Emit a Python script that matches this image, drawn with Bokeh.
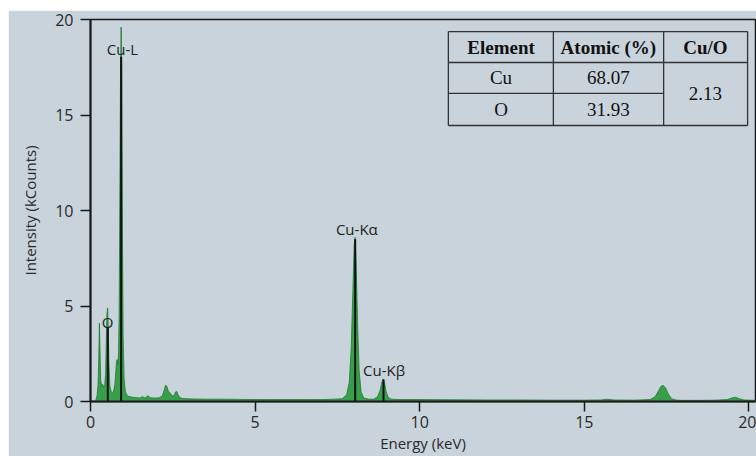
from bokeh.plotting import figure
from bokeh.models import FixedTicker, Range1d
from bokeh.core.properties import value
from bokeh.embed import file_html
from bokeh.resources import INLINE

# EDS spectrum of the copper oxide sample (energy in keV, intensity in kCounts)
energy_kev = [
    0.00, 0.15, 0.20, 0.23, 0.25, 0.27, 0.29, 0.31, 0.34, 0.37,
    0.40, 0.43, 0.46, 0.48, 0.50, 0.52, 0.54, 0.56, 0.59, 0.63,
    0.67, 0.71, 0.74, 0.77, 0.79, 0.81, 0.83, 0.85, 0.87, 0.89,
    0.91, 0.93, 0.95, 0.97, 0.99, 1.02, 1.06, 1.12, 1.20, 1.30,
    1.40, 1.50, 1.58, 1.66, 1.74, 1.82, 1.90, 2.00, 2.10, 2.18,
    2.24, 2.28, 2.32, 2.36, 2.42, 2.48, 2.54, 2.58, 2.62, 2.66,
    2.72, 2.80, 2.95, 3.20, 3.60, 4.00, 4.50, 5.00, 5.50, 6.00,
    6.50, 7.00, 7.40, 7.65, 7.78, 7.86, 7.92, 7.97, 8.01, 8.04,
    8.07, 8.11, 8.16, 8.22, 8.30, 8.45, 8.60, 8.72, 8.80, 8.85,
    8.89, 8.93, 8.98, 9.05, 9.15, 9.40, 10.0, 11.0, 12.0, 13.0,
    14.0, 15.0, 15.5, 15.7, 15.9, 16.5, 17.0, 17.15, 17.25, 17.33,
    17.40, 17.47, 17.55, 17.65, 17.80, 18.0, 18.5, 19.0, 19.35, 19.5,
    19.6, 19.7, 19.85, 20.2,
]
intensity_kcounts = [
    0.00, 0.00, 0.30, 0.90, 2.20, 4.10, 2.60, 1.10, 0.80, 0.90,
    0.75, 0.80, 1.50, 3.20, 4.60, 4.90, 3.90, 2.00, 0.80, 0.50,
    0.45, 0.60, 0.90, 1.60, 2.10, 2.20, 1.90, 2.40, 4.50, 10.5,
    16.5, 19.6, 17.5, 9.00, 3.50, 1.20, 0.50, 0.30, 0.25, 0.22,
    0.20, 0.18, 0.25, 0.18, 0.30, 0.20, 0.18, 0.18, 0.20, 0.30,
    0.60, 0.85, 0.80, 0.55, 0.45, 0.30, 0.30, 0.50, 0.52, 0.35,
    0.20, 0.16, 0.14, 0.13, 0.12, 0.12, 0.11, 0.10, 0.10, 0.10,
    0.10, 0.10, 0.12, 0.15, 0.35, 1.00, 2.80, 5.80, 8.20, 8.60,
    7.20, 4.20, 1.60, 0.50, 0.18, 0.12, 0.12, 0.25, 0.60, 1.00,
    1.18, 1.00, 0.50, 0.20, 0.12, 0.10, 0.10, 0.09, 0.08, 0.08,
    0.07, 0.07, 0.08, 0.12, 0.08, 0.07, 0.10, 0.25, 0.55, 0.80,
    0.84, 0.70, 0.40, 0.15, 0.07, 0.06, 0.06, 0.07, 0.10, 0.20,
    0.22, 0.15, 0.08, 0.06,
]

# Identified lines: position and height of the marker
line_names = ["O", "Cu-L", "Cu-K\u03b1", "Cu-K\u03b2"]
line_energy = [0.525, 0.93, 8.04, 8.90]
line_top = [3.85, 18.05, 8.50, 1.15]
label_x = [0.52, 0.97, 8.09, 8.92]
label_y = [3.65, 17.95, 8.50, 1.10]

x_ticks = [0, 5, 10, 15, 20]
y_ticks = [0, 5, 10, 15, 20]

# Composition table
table_header = ["Element", "Atomic (%)", "Cu/O"]
table_elements = ["Cu", "O"]
table_atomic = ["68.07", "31.93"]
table_ratio = ["2.13"]

PANEL = "#c9d3db"
FILL = "#2f9c45"
EDGE = "#1f7a33"
INK = "#1a1a1a"
SANS = "Open Sans"
SERIF = "Liberation Serif"

p = figure(width=748, height=446, output_backend="svg", toolbar_location=None,
           x_range=Range1d(0, 20.2), y_range=Range1d(0, 20),
           min_border_left=82, min_border_right=1, min_border_top=9,
           min_border_bottom=55,
           background_fill_color=PANEL, border_fill_color=PANEL)
p.margin = (10, 0, 0, 8)
p.grid.visible = False
p.outline_line_color = INK
p.outline_line_width = 1.5

# spectrum
p.varea(x=energy_kev, y1=0, y2=intensity_kcounts, fill_color=FILL, fill_alpha=0.95)
p.line(x=energy_kev, y=intensity_kcounts, line_color=EDGE, line_width=1, line_alpha=0.8)

# line markers and their labels
p.segment(x0=line_energy, y0=0, x1=line_energy, y1=line_top,
          line_color="#111111", line_width=2)
p.text(x=label_x, y=label_y, text=line_names, text_align="center",
       text_baseline="bottom", text_font=value(SANS), text_font_size="15px",
       text_color="#222222")

# composition table (grid lines in data space)
tx = [10.87, 14.06, 17.41, 19.96]
ty = [19.37, 17.75, 16.13, 14.45]
p.segment(x0=[tx[0], tx[0], tx[0], tx[0]], y0=[ty[0], ty[1], ty[2], ty[3]],
          x1=[tx[3], tx[3], tx[2], tx[3]], y1=[ty[0], ty[1], ty[2], ty[3]],
          line_color="#333333", line_width=1.3)
p.segment(x0=tx, y0=[ty[3]] * 4, x1=tx, y1=[ty[0]] * 4,
          line_color="#333333", line_width=1.3)
col_c = [12.47, 15.73, 18.68]
p.text(x=col_c, y=[18.56] * 3, text=table_header, text_align="center",
       text_baseline="middle", text_font=value(SERIF), text_font_size="19px",
       text_font_style="bold", text_color="#111111")
p.text(x=[col_c[0]] * 2, y=[16.94, 15.29], text=table_elements, text_align="center",
       text_baseline="middle", text_font=value(SERIF), text_font_size="19px",
       text_color="#111111")
p.text(x=[col_c[1]] * 2, y=[16.94, 15.29], text=table_atomic, text_align="center",
       text_baseline="middle", text_font=value(SERIF), text_font_size="19px",
       text_color="#111111")
p.text(x=[col_c[2]], y=[16.10], text=table_ratio, text_align="center",
       text_baseline="middle", text_font=value(SERIF), text_font_size="19px",
       text_color="#111111")

# axes
for ax, ticks in ((p.xaxis, x_ticks), (p.yaxis, y_ticks)):
    ax.ticker = FixedTicker(ticks=ticks)
    ax.axis_line_color = INK
    ax.axis_line_width = 2
    ax.major_tick_line_color = INK
    ax.major_tick_line_width = 1.5
    ax.major_tick_out = 10
    ax.major_tick_in = 0
    ax.minor_tick_line_color = None
    ax.major_label_text_font = SANS
    ax.major_label_text_font_size = "16px"
    ax.major_label_text_color = "#2a2a2a"
    ax.axis_label_text_font = SANS
    ax.axis_label_text_font_size = "15px"
    ax.axis_label_text_font_style = "normal"
    ax.axis_label_text_color = "#2a2a2a"

p.xaxis.axis_label = "Energy (keV)"
p.yaxis.axis_label = "Intensity (kCounts)"
p.xaxis.major_label_standoff = 4
p.yaxis.major_label_standoff = 7
p.xaxis.axis_label_standoff = 2
p.yaxis.axis_label_standoff = 12

open("out.html", "w").write(file_html(p, INLINE))
